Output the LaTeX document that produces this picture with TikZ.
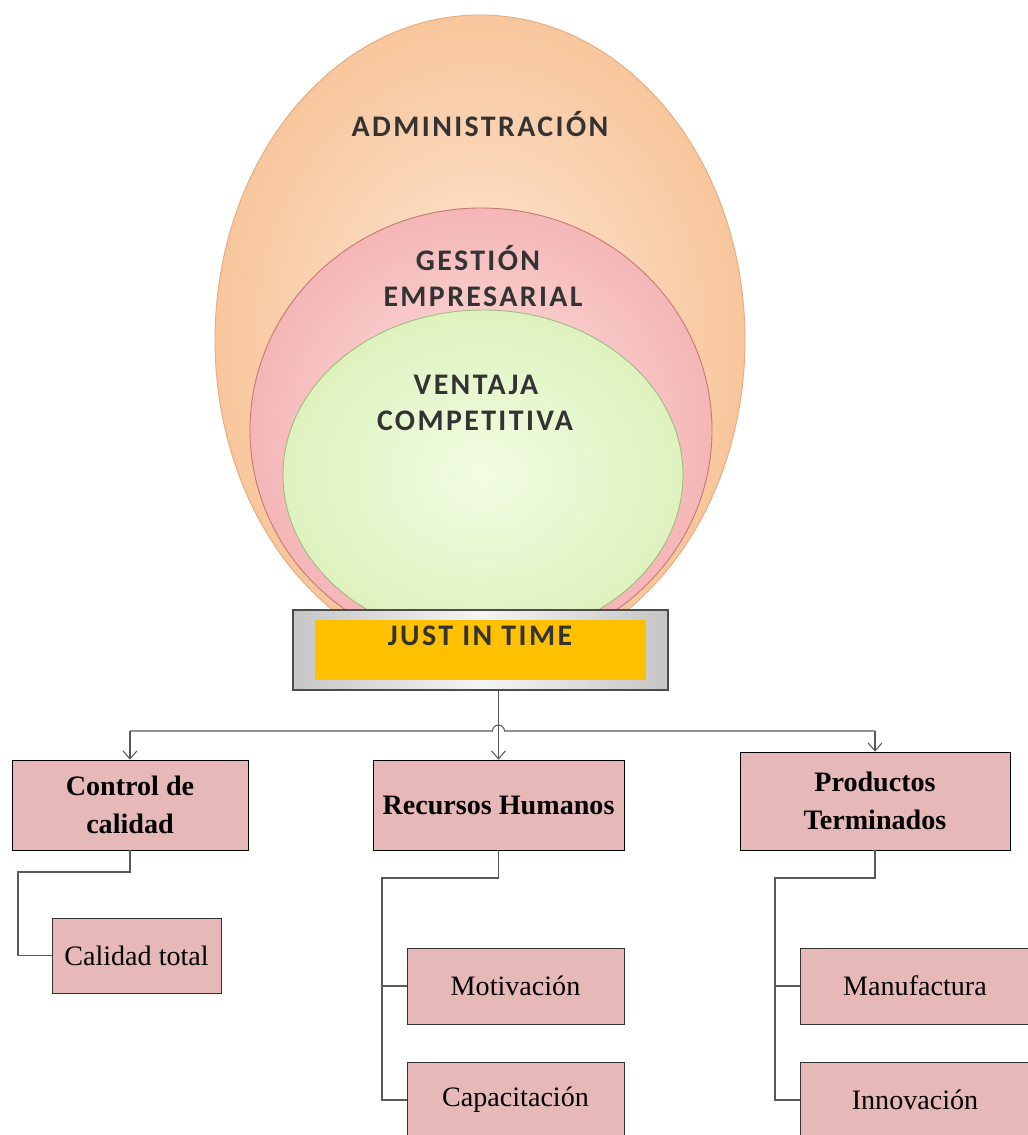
\documentclass[tikz,border=0pt]{standalone}
\usepackage{fontspec}
\setmainfont{Liberation Serif}
\newfontfamily\capfont[LetterSpace=8]{Carlito}
\usepackage{tikz}
\usetikzlibrary{arrows.meta,positioning,calc}
\usepackage{xcolor}
\definecolor{peachedge}{RGB}{230,170,125}
\definecolor{peachin}{RGB}{253,232,214}
\definecolor{peachout}{RGB}{248,198,156}
\definecolor{pinkedge}{RGB}{196,120,118}
\definecolor{pinkin}{RGB}{253,228,228}
\definecolor{pinkout}{RGB}{245,182,182}
\definecolor{greenedge}{RGB}{160,185,130}
\definecolor{greenin}{RGB}{242,252,226}
\definecolor{greenout}{RGB}{222,242,190}
\definecolor{jitorange}{RGB}{255,192,0}
\definecolor{boxpink}{RGB}{230,184,183}
\definecolor{linegrey}{RGB}{89,89,89}

\begin{document}
\begin{tikzpicture}[x=0.02cm, y=-0.02cm,
    captxt/.style={font=\capfont\bfseries\fontsize{17}{20}\selectfont, text=black!80, anchor=base, inner sep=0pt},
    topic/.style={rectangle, draw=black, fill=boxpink, align=center,
        font=\fontsize{16}{22}\selectfont\bfseries, inner sep=2pt},
    subtopic/.style={rectangle, draw=black!80, fill=boxpink,
        font=\fontsize{16}{22}\selectfont, inner sep=2pt},
    conn/.style={draw=linegrey, line width=0.6pt},
    arr/.style={-{Straight Barb[length=1.6mm, width=2.8mm]}, linegrey, line width=0.6pt}
]
    \useasboundingbox (0,0) rectangle (1027,1135);

    % Nested ellipses
    \shade[inner color=peachin, outer color=peachout] (480,340) ellipse [x radius=265, y radius=325];
    \draw[peachedge, line width=0.5pt] (480,340) ellipse [x radius=265, y radius=325];
    \shade[inner color=pinkin, outer color=pinkout] (481,430) ellipse [x radius=231, y radius=222];
    \draw[pinkedge, line width=0.5pt] (481,430) ellipse [x radius=231, y radius=222];
    \shade[inner color=greenin, outer color=greenout] (483,475) ellipse [x radius=200, y radius=165];
    \draw[greenedge, line width=0.5pt] (483,475) ellipse [x radius=200, y radius=165];

    \node[captxt] (admin) at (480,137) {ADMINISTRACIÓN};
    \node[captxt] (gest) at (478,270) {GESTIÓN};
    \node[captxt] (empr) at (483,306) {EMPRESARIAL};
    \node[captxt] (vent) at (476,394) {VENTAJA};
    \node[captxt] (comp) at (475,430) {COMPETITIVA};

    % Just in time base
    \node[rectangle, draw=black!70, line width=0.8pt, left color=gray!45, right color=gray!45,
        middle color=gray!8, minimum width=7.5cm, minimum height=1.6cm] (jit) at (480.5,650) {};
    \node[rectangle, fill=jitorange, minimum width=6.62cm, minimum height=1.2cm] (jitcore) at (480.5,650) {};
    \node[captxt] (jitlbl) at (480,645) {JUST IN TIME};

    % First level
    \node[topic, minimum width=4.72cm, minimum height=1.8cm] (cc) at (130,805) {Control de\\calidad};
    \node[topic, minimum width=5.02cm, minimum height=1.8cm] (rh) at (498.5,805) {Recursos Humanos};
    \node[topic, minimum width=5.4cm, minimum height=1.96cm] (pt) at (875,801) {Productos\\Terminados};

    \coordinate (bus) at (rh.north |- 0,731);
    \draw[arr] (jit.south -| rh.north) -- (rh.north);
    \draw[conn] (cc.north |- bus) -- ($(bus)+(-6,0)$) arc[start angle=180, end angle=0, radius=0.12cm] -- (pt.north |- bus);
    \draw[arr] (cc.north |- bus) -- (cc.north);
    \draw[arr] (pt.north |- bus) -- (pt.north);

    % Second level
    \node[subtopic, minimum width=3.38cm, minimum height=1.5cm] (ct) at (136.5,955.5) {Calidad total};
    \node[subtopic, minimum width=4.34cm, minimum height=1.52cm] (mo) at (515.5,986) {Motivación};
    \node[subtopic, minimum width=4.34cm, minimum height=1.52cm] (ca) at (515.5,1100) {Capacitación};
    \node[subtopic, minimum width=4.6cm, minimum height=1.52cm] (ma) at (915,986) {Manufactura};
    \node[subtopic, minimum width=4.6cm, minimum height=1.52cm] (in) at (915,1100) {Innovación};

    \coordinate (ccspine) at (18,872);
    \coordinate (rhspine) at (382,878);
    \coordinate (ptspine) at (775,878);
    \draw[conn] (cc.south) |- (ccspine) |- (ct.west);
    \draw[conn] (rh.south) |- (rhspine) |- (ca.west);
    \draw[conn] (rhspine |- mo.west) -- (mo.west);
    \draw[conn] (pt.south) |- (ptspine) |- (in.west);
    \draw[conn] (ptspine |- ma.west) -- (ma.west);
\end{tikzpicture}
\end{document}
